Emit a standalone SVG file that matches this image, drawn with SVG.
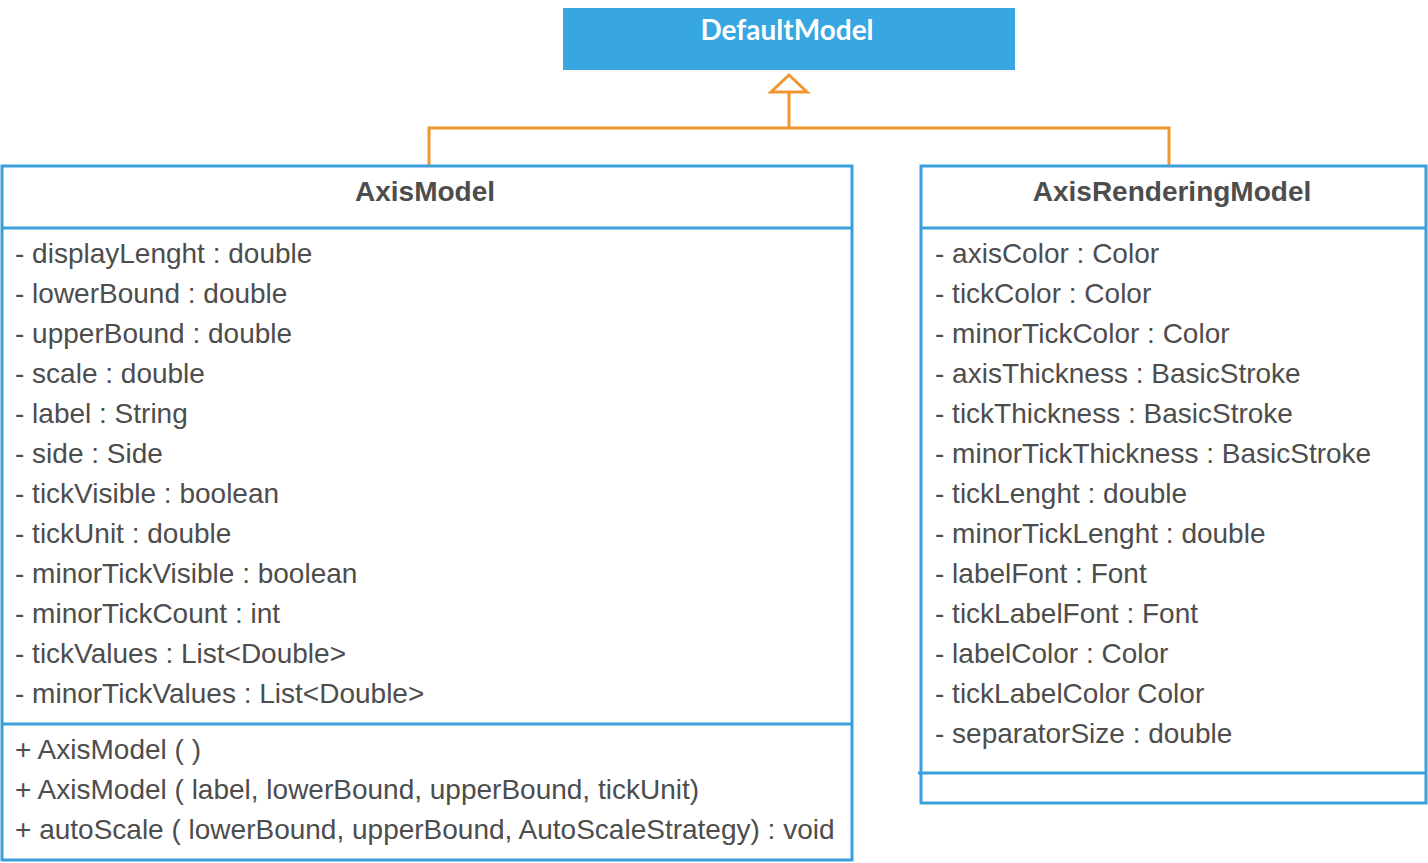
<svg xmlns="http://www.w3.org/2000/svg" width="1428" height="863" viewBox="0 0 1428 863">
<style>
.box{fill:#ffffff;stroke:#3a9fdb;stroke-width:3}
.sep{stroke:#3a9fdb;stroke-width:3;fill:none}
.hdr{font-family:"Liberation Sans",Arial,sans-serif;font-size:28px;font-weight:bold;fill:#4d4d4d;text-anchor:middle}
.t{font-family:"Liberation Sans",Arial,sans-serif;font-size:28px;fill:#4d4d4d}
.conn{stroke:#f0952f;stroke-width:3;fill:none}
</style>
<g id="DefaultModel">
<rect x="563" y="8" width="452" height="62" fill="#38a6e0"/>
<text x="787" y="40" font-family="Lato,'Liberation Sans',sans-serif" font-size="28" font-weight="bold" fill="#ffffff" text-anchor="middle">DefaultModel</text>
</g>
<g id="connectors">
<polyline class="conn" points="429,165 429,128 1169,128 1169,165"/>
<line class="conn" x1="789" y1="128" x2="789" y2="92"/>
<polygon class="conn" points="789,75 771,92 807,92" fill="#ffffff"/>
</g>
<g id="AxisModel">
<rect class="box" x="2" y="166" width="850" height="694"/>
<line class="sep" x1="2" y1="228" x2="852" y2="228"/>
<line class="sep" x1="2" y1="724" x2="852" y2="724"/>
<text class="hdr" x="425" y="201">AxisModel</text>
<text class="t" x="15" y="263">- displayLenght : double</text>
<text class="t" x="15" y="303">- lowerBound : double</text>
<text class="t" x="15" y="343">- upperBound : double</text>
<text class="t" x="15" y="383">- scale : double</text>
<text class="t" x="15" y="423">- label : String</text>
<text class="t" x="15" y="463">- side : Side</text>
<text class="t" x="15" y="503">- tickVisible : boolean</text>
<text class="t" x="15" y="543">- tickUnit : double</text>
<text class="t" x="15" y="583">- minorTickVisible : boolean</text>
<text class="t" x="15" y="623">- minorTickCount : int</text>
<text class="t" x="15" y="663">- tickValues : List&lt;Double&gt;</text>
<text class="t" x="15" y="703">- minorTickValues : List&lt;Double&gt;</text>
<text class="t" x="15" y="759">+ AxisModel ( )</text>
<text class="t" x="15" y="799">+ AxisModel ( label, lowerBound, upperBound, tickUnit)</text>
<text class="t" x="15" y="839">+ autoScale ( lowerBound, upperBound, AutoScaleStrategy) : void</text>
</g>
<g id="AxisRenderingModel">
<rect class="box" x="921" y="166" width="505" height="637"/>
<line class="sep" x1="921" y1="228" x2="1426" y2="228"/>
<line class="sep" x1="918" y1="773" x2="1426" y2="773"/>
<text class="hdr" x="1172" y="201">AxisRenderingModel</text>
<text class="t" x="935" y="263">- axisColor : Color</text>
<text class="t" x="935" y="303">- tickColor : Color</text>
<text class="t" x="935" y="343">- minorTickColor : Color</text>
<text class="t" x="935" y="383">- axisThickness : BasicStroke</text>
<text class="t" x="935" y="423">- tickThickness : BasicStroke</text>
<text class="t" x="935" y="463">- minorTickThickness : BasicStroke</text>
<text class="t" x="935" y="503">- tickLenght : double</text>
<text class="t" x="935" y="543">- minorTickLenght : double</text>
<text class="t" x="935" y="583">- labelFont : Font</text>
<text class="t" x="935" y="623">- tickLabelFont : Font</text>
<text class="t" x="935" y="663">- labelColor : Color</text>
<text class="t" x="935" y="703">- tickLabelColor Color</text>
<text class="t" x="935" y="743">- separatorSize : double</text>
</g>
</svg>
